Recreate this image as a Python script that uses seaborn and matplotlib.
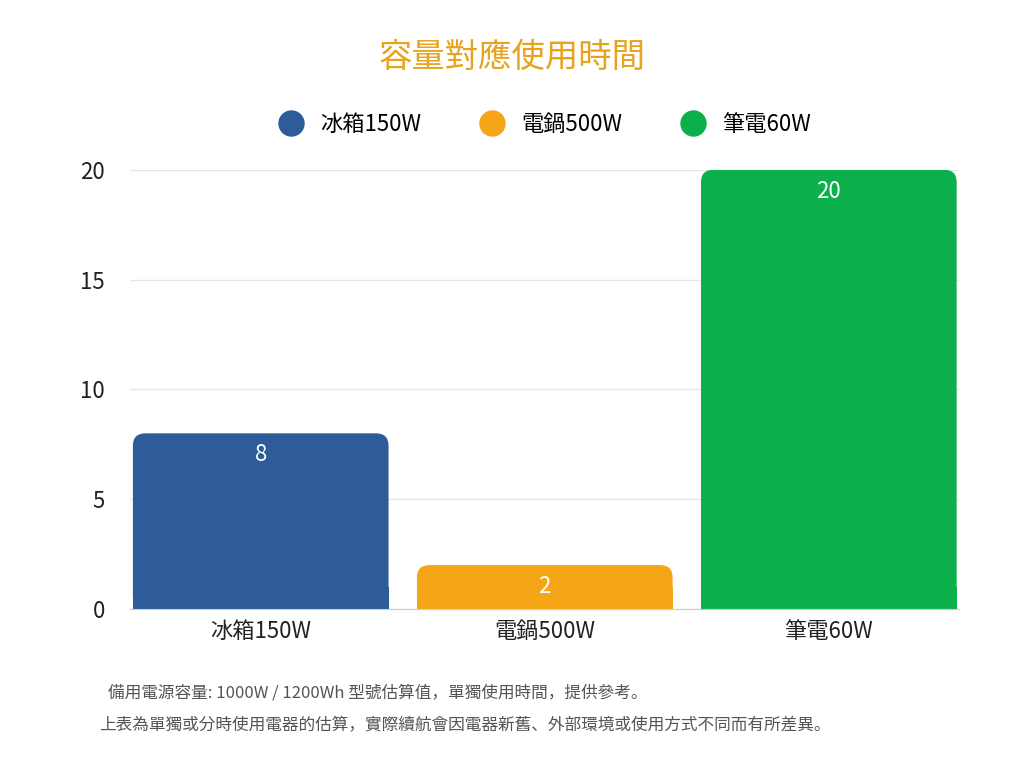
import matplotlib
matplotlib.use("Agg")
import matplotlib.pyplot as plt
from matplotlib import font_manager
import seaborn as sns
import pandas as pd
from matplotlib.patches import FancyBboxPatch, Rectangle
from matplotlib.lines import Line2D

# pick whichever CJK family name the font manager actually registered
names = sorted({f.name for f in font_manager.fontManager.ttflist})
cjk = [n for n in ["Noto Sans CJK TC", "Noto Sans CJK JP", "Noto Sans CJK SC", "Noto Sans CJK KR"] if n in names]
cjk += [n for n in names if "CJK" in n and n not in cjk]
plt.rcParams["font.family"] = "sans-serif"
plt.rcParams["font.sans-serif"] = cjk + ["DejaVu Sans"]

# data
categories = ["冰箱150W", "電鍋500W", "筆電60W"]
hours = [8, 2, 20]
colors = ["#2E5C99", "#F5A516", "#0BB04B"]
yticks = [0, 5, 10, 15, 20]

df = pd.DataFrame({"device": categories, "hours": hours})

fig = plt.figure(figsize=(10.24, 7.68), dpi=100)
ax = fig.add_axes([0.127, 0.207, 0.81, 0.572])
sns.barplot(data=df, x="device", y="hours", hue="device", palette=colors,
            width=0.9, legend=False, ax=ax)

# swap plain bars for bars with rounded tops
aspect = 12.4
r = 0.045
for patch, c, v in zip(ax.patches, colors, hours):
    x0, w, h = patch.get_x(), patch.get_width(), patch.get_height()
    patch.set_visible(False)
    ax.add_patch(FancyBboxPatch((x0 + r, r * aspect), w - 2 * r, h - 2 * r * aspect,
                                boxstyle=f"round,pad={r}", mutation_aspect=aspect,
                                fc=c, ec="none", zorder=2))
    ax.add_patch(Rectangle((x0, 0), w, min(h, 1.0), fc=c, ec="none", zorder=2))
    ax.text(x0 + w / 2, h - 0.45, str(v), ha="center", va="top",
            color="white", fontsize=16, zorder=3)

ax.set_ylim(0, 20)
ax.set_xlim(-0.46, 2.46)
ax.set_yticks(yticks)
ax.grid(axis="y", color="#e6e6e6", lw=1, zorder=0)
ax.set_axisbelow(True)
for s in ["top", "right", "left"]:
    ax.spines[s].set_visible(False)
ax.spines["bottom"].set_color("#cccccc")
ax.tick_params(axis="both", length=0, labelsize=16, colors="#222222")
ax.tick_params(axis="x", pad=8)
ax.tick_params(axis="y", pad=18)
ax.set_xlabel("")
ax.set_ylabel("")

fig.text(0.5, 0.925, "容量對應使用時間", ha="center", va="center",
         fontsize=24, color="#E8A31E")

handles = [Line2D([], [], marker="o", ls="", ms=18, mfc=c, mec=c) for c in colors]
fig.legend(handles, categories, loc="center", bbox_to_anchor=(0.527, 0.838),
           ncol=3, frameon=False, fontsize=16, handletextpad=0.3, columnspacing=2.2)

fig.text(0.105, 0.098, "備用電源容量: 1000W / 1200Wh 型號估算值，單獨使用時間，提供參考。",
         fontsize=12, color="#555555", va="center")
fig.text(0.097, 0.055, "上表為單獨或分時使用電器的估算，實際續航會因電器新舊、外部環境或使用方式不同而有所差異。",
         fontsize=12, color="#555555", va="center")

fig.savefig("out.png", dpi=100, facecolor="white")
